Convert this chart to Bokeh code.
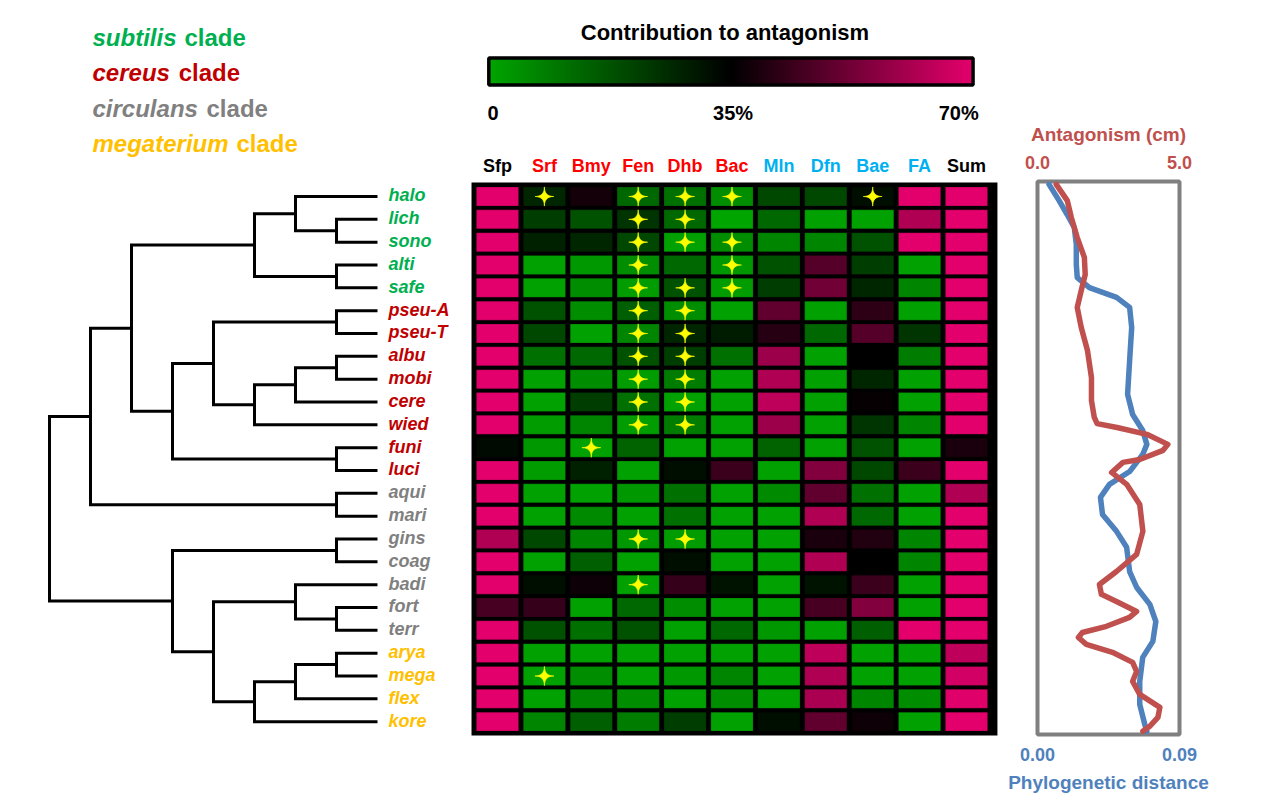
import numpy as np
from bokeh.plotting import figure
from bokeh.models import Range1d, LinearAxis, FixedTicker, PrintfTickFormatter, ColumnDataSource, LinearColorMapper
from bokeh.layouts import row
from bokeh.embed import file_html
from bokeh.resources import INLINE
from bokeh.core.properties import value
from bokeh.transform import linear_cmap

FONT = "Liberation Sans"

# ---------------- data ----------------
strains = ["halo", "lich", "sono", "alti", "safe", "pseu-A", "pseu-T", "albu", "mobi",
           "cere", "wied", "funi", "luci", "aqui", "mari", "gins", "coag", "badi",
           "fort", "terr", "arya", "mega", "flex", "kore"]
clades = ["subtilis", "cereus", "circulans", "megaterium"]
clade_sizes = [5, 8, 7, 4]
clade_colors = ["#00B050", "#C00000", "#808080", "#FFC000"]

subtilis_tree = (("halo", ("lich", "sono")), ("alti", "safe"))
cereus_tree = ((("pseu-A", "pseu-T"), ((("albu", "mobi"), "cere"), "wied")), ("funi", "luci"))
tree = (((subtilis_tree, cereus_tree), ("aqui", "mari")),
        (("gins", "coag"), (("badi", ("fort", "terr")), ((("arya", "mega"), "flex"), "kore"))))

columns = ["Sfp", "Srf", "Bmy", "Fen", "Dhb", "Bac", "Mln", "Dfn", "Bae", "FA", "Sum"]
column_colors = ["#000000", "#FF0000", "#FF0000", "#FF0000", "#FF0000", "#FF0000",
                 "#00B0F0", "#00B0F0", "#00B0F0", "#00B0F0", "#000000"]

# contribution to antagonism (%), one list per column, in strain order
sfp = [70, 70, 70, 70, 70, 70, 70, 70, 70, 70, 70, 33, 70, 70, 70, 62, 70, 70, 46, 70, 70, 70, 70, 70]
srf = [27, 22, 28, 1, 1, 18, 20, 11, 1, 1, 2, 3, 2, 1, 1, 20, 1, 32, 43, 18, 1, 1, 1, 7]
bmy = [38, 18, 27, 3, 5, 5, 1, 13, 5, 22, 7, 1, 28, 1, 6, 7, 15, 37, 1, 11, 1, 5, 7, 15]
fen = [13, 24, 20, 5, 2, 15, 7, 18, 2, 11, 2, 14, 1, 3, 1, 3, 1, 1, 13, 18, 1, 1, 5, 9]
dhb = [11, 13, 1, 13, 18, 5, 27, 22, 9, 1, 9, 1, 32, 11, 11, 2, 32, 43, 5, 1, 1, 3, 1, 22]
bac = [5, 0, 5, 3, 2, 1, 29, 11, 1, 1, 1, 1, 44, 1, 1, 1, 1, 31, 1, 13, 1, 7, 5, 1]
mln = [20, 13, 7, 18, 22, 50, 41, 59, 62, 64, 59, 14, 1, 6, 1, 1, 1, 1, 1, 3, 1, 1, 1, 32]
dfn = [20, 1, 7, 48, 52, 1, 13, 1, 1, 1, 1, 1, 55, 50, 62, 39, 62, 31, 46, 1, 64, 62, 61, 50]
bae = [32, 1, 18, 22, 27, 42, 48, 35, 27, 36, 24, 18, 20, 11, 13, 40, 35, 44, 55, 15, 1, 1, 7, 37]
fa = [70, 62, 70, 1, 7, 1, 24, 9, 1, 1, 7, 1, 44, 1, 1, 7, 7, 1, 1, 70, 1, 1, 5, 1]
sm = [70, 70, 70, 70, 70, 70, 70, 70, 70, 70, 70, 39, 70, 62, 70, 70, 70, 70, 70, 70, 64, 67, 69, 70]
heat_values = [sfp, srf, bmy, fen, dhb, bac, mln, dfn, bae, fa, sm]

star_cells = [("halo", "Srf"), ("halo", "Fen"), ("halo", "Dhb"), ("halo", "Bac"), ("halo", "Bae"),
              ("lich", "Fen"), ("lich", "Dhb"), ("sono", "Fen"), ("sono", "Dhb"), ("sono", "Bac"),
              ("alti", "Fen"), ("alti", "Bac"), ("safe", "Fen"), ("safe", "Dhb"), ("safe", "Bac"),
              ("pseu-A", "Fen"), ("pseu-A", "Dhb"), ("pseu-T", "Fen"), ("pseu-T", "Dhb"),
              ("albu", "Fen"), ("albu", "Dhb"), ("mobi", "Fen"), ("mobi", "Dhb"),
              ("cere", "Fen"), ("cere", "Dhb"), ("wied", "Fen"), ("wied", "Dhb"),
              ("funi", "Bmy"), ("gins", "Fen"), ("gins", "Dhb"), ("badi", "Fen"), ("mega", "Srf")]

cbar_ticks = [0, 35, 70]
cbar_labels = ["0", "35%", "70%"]

# right panel curves (position along the strain axis, value)
antag_pos = [-0.53, 0.18, 0.92, 1.80, 2.67, 3.42, 4.12, 4.86, 5.74, 6.75, 7.93, 8.94, 9.68, 9.95,
             10.12, 10.42, 10.86, 11.12, 11.52, 11.65, 12.09, 12.61, 13.49, 14.67, 15.68, 16.43,
             17.00, 17.43, 17.74, 18.18, 18.44, 18.83, 19.10, 19.32, 19.62, 19.97, 20.41, 20.81,
             21.24, 21.81, 22.38, 22.82, 23.21, 23.43]
antag_cm = [0.66, 1.05, 1.19, 1.40, 1.65, 1.68, 1.54, 1.40, 1.54, 1.76, 1.90, 1.90, 2.00, 2.10,
            2.80, 3.85, 4.59, 4.42, 3.60, 3.01, 2.61, 3.14, 3.60, 3.71, 3.49, 2.78,
            2.18, 2.25, 2.78, 3.49, 3.24, 2.43, 1.58, 1.44, 1.72, 2.64, 3.35, 3.49,
            3.35, 3.60, 4.31, 4.24, 3.95, 3.71]
phylo_pos = [-0.53, 0.18, 0.79, 1.36, 2.10, 2.98, 3.55, 3.99, 4.42, 4.86, 5.74, 7.18, 8.67, 9.55,
             10.25, 10.86, 11.30, 12.05, 12.61, 13.18, 13.93, 14.67, 15.37, 16.43, 17.13, 17.87,
             18.62, 19.49, 20.19, 21.24, 22.25, 23.13, 23.43]
phylo_dist = [0.0073, 0.0137, 0.0188, 0.0233, 0.0246, 0.0246, 0.0252, 0.0329, 0.0501, 0.0584,
              0.0597, 0.0584, 0.0571, 0.0603, 0.0667, 0.0693, 0.0667, 0.0584, 0.0456, 0.0399,
              0.0412, 0.0501, 0.0565, 0.0584, 0.0629, 0.0712, 0.0750, 0.0731, 0.0667, 0.0648,
              0.0648, 0.0680, 0.0693]

# ---------------- helpers ----------------
strain_color = []
for c, n in zip(clade_colors, clade_sizes):
    strain_color += [c] * n

palette = []
for i in range(256):
    t = i / 255
    if t <= 0.5:
        g = round(165 * (1 - t / 0.5))
        palette.append("#%02x%02x%02x" % (0, g, 0))
    else:
        s = (t - 0.5) / 0.5
        palette.append("#%02x%02x%02x" % (round(228 * s), 0, round(108 * s)))

H = 799
Y_BOTTOM, Y_TOP = 26.41, -8.585


def clean(p):
    p.grid.grid_line_color = None
    p.outline_line_color = None
    p.background_fill_color = "white"
    p.border_fill_color = "white"


# ---------------- figure A: dendrogram + legend ----------------
pA = figure(width=469, height=H, x_range=Range1d(start=9.195, end=-2.244),
            y_range=Range1d(start=Y_BOTTOM, end=Y_TOP),
            x_axis_location=None, y_axis_location=None, toolbar_location=None,
            output_backend="svg", min_border=0, frame_align=False)
clean(pA)

seg_xs, seg_ys = [], []


def place(node):
    if isinstance(node, str):
        return 0, strains.index(node)
    kids = [place(k) for k in node]
    h = 1 + max(k[0] for k in kids)
    y = sum(k[1] for k in kids) / len(kids)
    seg_xs.append([kids[0][0], h, h, kids[1][0]])
    seg_ys.append([kids[0][1], kids[0][1], kids[1][1], kids[1][1]])
    return h, y


place(tree)
pA.multi_line(xs=seg_xs, ys=seg_ys, line_color="black", line_width=3, line_join="miter")

pA.text(x=[-0.268] * len(strains), y=[i - 0.05 for i in range(len(strains))], text=strains,
        text_color=strain_color, text_font=value(FONT), text_font_style="bold italic",
        text_font_size="18px", text_align="left", text_baseline="middle")

leg_y = [-6.943, -5.41, -3.876, -2.343]
pA.text(x=[6.951] * 4, y=leg_y, text=clades, text_color=clade_colors, text_font=value(FONT),
        text_font_style="bold italic", text_font_size="24px", text_align="left",
        text_baseline="middle")
pA.text(x=[4.71, 4.85, 4.17, 3.44], y=leg_y, text=["clade"] * 4, text_color=clade_colors,
        text_font=value(FONT), text_font_style="bold", text_font_size="24px",
        text_align="left", text_baseline="middle")

# ---------------- figure B: heatmap + colour bar ----------------
pB = figure(width=530, height=H, x_range=Range1d(start=-0.597, end=10.704),
            y_range=Range1d(start=Y_BOTTOM, end=Y_TOP),
            x_axis_location=None, y_axis_location=None, toolbar_location=None,
            output_backend="svg", min_border=0, frame_align=False)
clean(pB)

pB.quad(left=-0.554, right=10.66, top=-0.613, bottom=23.61, fill_color="black", line_color=None)

cx, cy, cv = [], [], []
for j, col in enumerate(heat_values):
    for i, v in enumerate(col):
        cx.append(j)
        cy.append(i)
        cv.append(v)
heat_src = ColumnDataSource(dict(x=cx, y=cy, v=cv))
pB.rect(x="x", y="y", width=0.9, height=0.83, source=heat_src,
        fill_color=linear_cmap("v", palette, 0, 70), line_color="black", line_alpha=0.2,
        line_width=1)

# stars
sx, sy = [], []
t = np.linspace(0, 2 * np.pi, 81)
for s, c in star_cells:
    x0 = columns.index(c)
    y0 = strains.index(s)
    ct, st = np.cos(t), np.sin(t)
    sx.append(list(x0 + 0.2 * np.sign(ct) * np.abs(ct) ** 4))
    sy.append(list(y0 + 0.42 * np.sign(st) * np.abs(st) ** 4))
pB.patches(xs=sx, ys=sy, fill_color="#FFFF00", line_color="#FFFF00", line_width=0.8)

pB.text(x=list(range(len(columns))), y=[-1.345] * len(columns), text=columns,
        text_color=column_colors, text_font=value(FONT), text_font_style="bold",
        text_font_size="18px", text_align="center", text_baseline="middle")

# colour bar
ramp = np.linspace(0, 70, 256)
cb_left, cb_right = -0.185, 10.14
mapper = LinearColorMapper(palette=palette, low=0, high=70)
pB.image(image=[ramp[None, :]], x=cb_left, y=-6.07, dw=cb_right - cb_left, dh=1.19,
         color_mapper=mapper)
pB.quad(left=cb_left, right=cb_right, top=-6.07, bottom=-4.88, fill_color=None,
        line_color="black", line_width=3.5)
pB.text(x=[4.85], y=[-7.17], text=["Contribution to antagonism"], text_color="black",
        text_font=value(FONT), text_font_style="bold", text_font_size="22px",
        text_align="center", text_baseline="middle")
cb_x = [cb_left - 0.03 + (cb_right + 0.15 - cb_left) * v / 70 for v in cbar_ticks]
pB.text(x=cb_x, y=[-3.666] * 3, text=cbar_labels, text_color="black",
        text_align=["left", "center", "right"], text_font=value(FONT),
        text_font_style="bold", text_font_size="20px", text_baseline="middle")

# ---------------- figure C: antagonism / phylogenetic distance ----------------
pC = figure(width=262, height=H, x_range=Range1d(0, 5), y_range=Range1d(start=23.57, end=-0.657),
            x_axis_location=None, y_axis_location=None, toolbar_location=None,
            output_backend="svg", min_border_left=38, min_border_right=82,
            min_border_top=181, min_border_bottom=65, frame_align=False)
pC.grid.grid_line_color = None
pC.outline_line_color = "#808080"
pC.outline_line_width = 4
pC.extra_x_ranges = {"phy": Range1d(0, 0.09)}

RED = "#C0504D"
BLUE = "#4F81BD"


def style_axis(ax, color, tick_standoff, label_standoff):
    ax.axis_line_color = None
    ax.major_tick_line_color = None
    ax.minor_tick_line_color = None
    ax.major_label_text_font = FONT
    ax.major_label_text_font_style = "bold"
    ax.major_label_text_font_size = "18px"
    ax.major_label_text_color = color
    ax.axis_label_text_font = FONT
    ax.axis_label_text_font_style = "bold"
    ax.axis_label_text_font_size = "19px"
    ax.axis_label_text_color = color
    ax.major_label_standoff = tick_standoff
    ax.axis_label_standoff = label_standoff


ax_top = LinearAxis(ticker=FixedTicker(ticks=[0, 5]), formatter=PrintfTickFormatter(format="%.1f"),
                    axis_label="Antagonism (cm)")
style_axis(ax_top, RED, 7, 8)
pC.add_layout(ax_top, "above")
ax_bot = LinearAxis(x_range_name="phy", ticker=FixedTicker(ticks=[0, 0.09]),
                    formatter=PrintfTickFormatter(format="%.2f"), axis_label="Phylogenetic distance")
style_axis(ax_bot, BLUE, 7, 8)
pC.add_layout(ax_bot, "below")

pC.line(x=phylo_dist, y=phylo_pos, x_range_name="phy", line_color=BLUE, line_width=5.5,
        line_join="round", line_cap="round")
pC.line(x=antag_cm, y=antag_pos, line_color=RED, line_width=5.5, line_join="round",
        line_cap="round")

layout = row(pA, pB, pC)
open("out.html", "w").write(file_html(layout, INLINE, title="Contribution to antagonism"))
